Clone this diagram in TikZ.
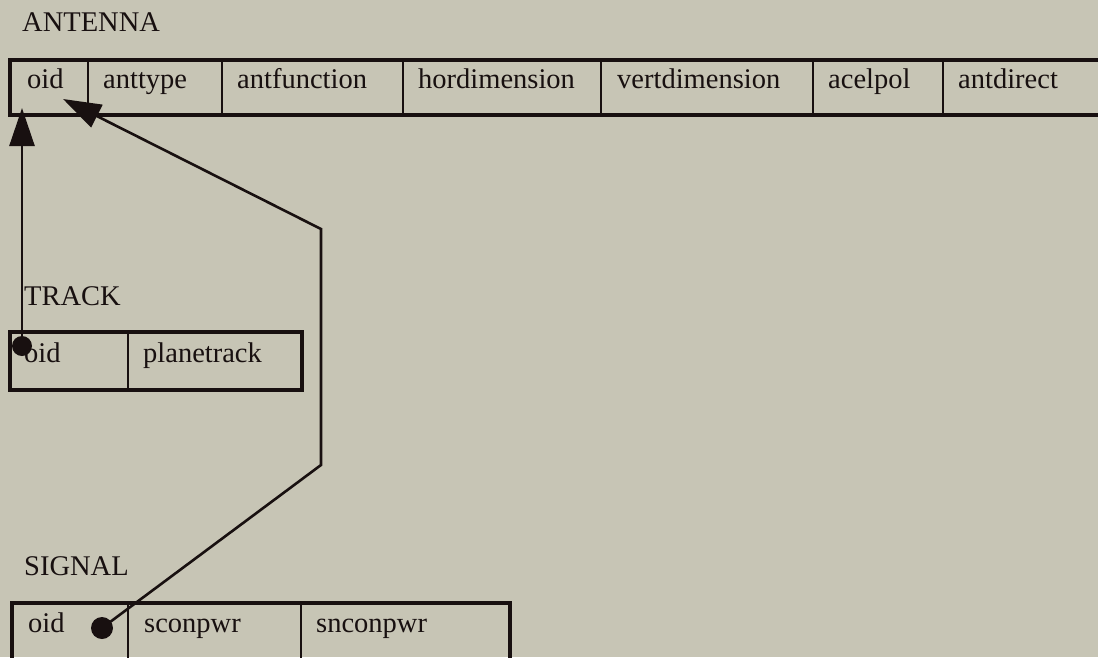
\documentclass[tikz,border=0pt]{standalone}
\usepackage{fontspec}
\setmainfont{Liberation Serif}
\usetikzlibrary{arrows.meta}
\definecolor{paper}{RGB}{199,197,181}
\definecolor{ink}{RGB}{24,16,16}

\begin{document}
\begin{tikzpicture}[x=1pt,y=-1pt,
  txt/.style={anchor=base west, inner sep=0pt, text=ink,
              font=\fontsize{28.5}{32}\selectfont},
  frame/.style={draw=ink, line width=3.5pt},
  sep/.style={draw=ink, line width=2.5pt},
  link/.style={draw=ink, line width=2.6pt},
  tip/.style={-{Triangle[length=38pt,width=25pt]}},
  dotmark/.style={circle, fill=ink, inner sep=0pt, minimum size=20pt}]

% canvas
\fill[paper] (0,0) rectangle (1098,657);
\useasboundingbox (0,0) rectangle (1098,657);
\clip (0,0) rectangle (1098,657);

% ---- ANTENNA relation ----
\node[txt] (antenna) at (22,31) {ANTENNA};
\draw[frame] (1110,60) -- (10,60) -- (10,115);
\draw[draw=ink, line width=4.5pt] (8.25,115) -- (1110,115);
\foreach \x in {88,222,403,601,813,943} \draw[sep] (\x,60) -- (\x,115);
\node[txt] (a-oid)  at (27,88)  {oid};
\node[txt] (a-type) at (103,88) {anttype};
\node[txt] (a-func) at (237,88) {antfunction};
\node[txt] (a-hor)  at (418,88) {hordimension};
\node[txt] (a-vert) at (617,88) {vertdimension};
\node[txt] (a-pol)  at (828,88) {acelpol};
\node[txt] (a-dir)  at (958,88) {antdirect};

% ---- TRACK relation ----
\node[txt] (track) at (24,305) {TRACK};
\draw[frame] (10,332) rectangle (302,390);
\draw[sep] (128,332) -- (128,390);
\node[txt] (t-oid)   at (24,362)  {oid};
\node[txt] (t-plane) at (143,362) {planetrack};

% ---- SIGNAL relation ----
\node[txt] (signal) at (24,575) {SIGNAL};
\draw[frame] (12,700) -- (12,603) -- (510,603) -- (510,700);
\draw[sep] (128,603) -- (128,700);
\draw[sep] (301,603) -- (301,700);
\node[txt] (s-oid)  at (28,632)  {oid};
\node[txt] (s-con)  at (144,632) {sconpwr};
\node[txt] (s-ncon) at (316,632) {snconpwr};

% ---- foreign keys ----
\node[dotmark] (tdot) at (22,346) {};
\coordinate (ttip) at (22,108);
\draw[link,tip] (tdot.center) -- (ttip);

\node[dotmark, minimum size=22pt] (sdot) at (102,628) {};
\coordinate (bend1) at (321,465);
\coordinate (bend2) at (321,229);
\coordinate (stip) at (63,99);
\draw[link,tip,line join=miter] (sdot.center) -- (bend1) -- (bend2) -- (stip);
\end{tikzpicture}
\end{document}
